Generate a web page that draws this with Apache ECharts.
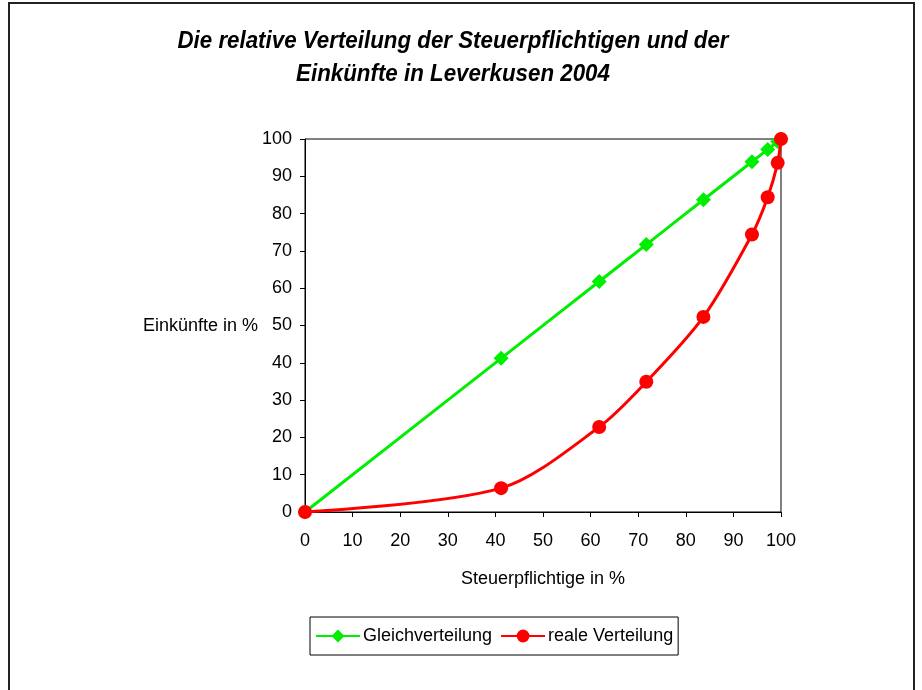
<!DOCTYPE html>
<html><head><meta charset="utf-8">
<script src="https://cdn.jsdelivr.net/npm/echarts@6/dist/echarts.min.js"></script>
<style>html,body{margin:0;padding:0;background:#fff}#c{width:922px;height:690px}</style>
</head><body><div id="c"></div>
<script>
var steuerpflichtige = [0, 41.2, 61.8, 71.7, 83.7, 93.9, 97.2, 99.3, 100];
var gleichverteilung = [0, 41.2, 61.8, 71.7, 83.7, 93.9, 97.2, 99.3, 100];
var realeVerteilung = [0, 6.4, 22.8, 34.9, 52.3, 74.4, 84.4, 93.6, 100];
var xTicks = [0, 10, 20, 30, 40, 50, 60, 70, 80, 90, 100];
var yTicks = [0, 10, 20, 30, 40, 50, 60, 70, 80, 90, 100];

function pairs(xs, ys){ return xs.map(function(x,i){ return [x, ys[i]]; }); }

var chart = echarts.init(document.getElementById('c'));
var FONT = 'Liberation Sans, Arial, sans-serif';
chart.setOption({
  animation: false,
  backgroundColor: '#fff',
  graphic: [
    {type:'rect', shape:{x:9, y:3, width:905, height:700}, style:{fill:'none', stroke:'#222', lineWidth:2}, silent:true},
    {type:'text', x:453, y:29, scaleX:0.93, originX:0, style:{text:'Die relative Verteilung der Steuerpflichtigen und der', font:'italic bold 24px Liberation Sans, Arial, sans-serif', fill:'#000', textAlign:'center'}},
    {type:'text', x:453, y:62, scaleX:0.93, originX:0, style:{text:'Einkünfte in Leverkusen 2004', font:'italic bold 24px Liberation Sans, Arial, sans-serif', fill:'#000', textAlign:'center'}},
    {type:'text', x:258, y:326, style:{text:'Einkünfte in %', font:'18px Liberation Sans, Arial, sans-serif', fill:'#000', textAlign:'right', textVerticalAlign:'middle'}}
  ],
  grid: {left:305, right:141, top:139, bottom:178, show:true, borderColor:'#000', borderWidth:1, backgroundColor:'#fff'},
  xAxis: {
    type:'value', min:xTicks[0], max:xTicks[xTicks.length-1], interval:10,
    name:'Steuerpflichtige in %', nameLocation:'middle', nameGap:58,
    nameTextStyle:{fontFamily:FONT, fontSize:18, color:'#000'},
    axisLine:{lineStyle:{color:'#000', width:1}},
    axisTick:{show:true, length:5, lineStyle:{color:'#000'}},
    axisLabel:{fontFamily:FONT, fontSize:18, color:'#000', margin:20},
    splitLine:{show:false}
  },
  yAxis: {
    type:'value', min:yTicks[0], max:yTicks[yTicks.length-1], interval:10,
    axisLine:{show:true, lineStyle:{color:'#000', width:1}},
    axisTick:{show:true, length:5, lineStyle:{color:'#000'}},
    axisLabel:{fontFamily:FONT, fontSize:18, color:'#000', margin:13},
    splitLine:{show:false}
  },
  legend: {
    left:310, top:617, itemWidth:44, itemHeight:16, itemGap:8,
    padding:[10,5,10,5],
    borderColor:'#000', borderWidth:1, borderRadius:0,
    textStyle:{fontFamily:FONT, fontSize:18, color:'#000', padding:[0,0,0,-2]},
    data:['Gleichverteilung','reale Verteilung']
  },
  series: [
    {name:'Gleichverteilung', type:'line', data:pairs(steuerpflichtige, gleichverteilung), smooth:0.3,
     symbol:'diamond', symbolSize:15, showAllSymbol:true,
     lineStyle:{color:'#00ee00', width:3}, itemStyle:{color:'#00ee00'}, z:2},
    {name:'reale Verteilung', type:'line', data:pairs(steuerpflichtige, realeVerteilung), smooth:0.3,
     symbol:'circle', symbolSize:14, showAllSymbol:true,
     lineStyle:{color:'#ff0000', width:3}, itemStyle:{color:'#ff0000'}, z:3}
  ]
});
</script></body></html>
